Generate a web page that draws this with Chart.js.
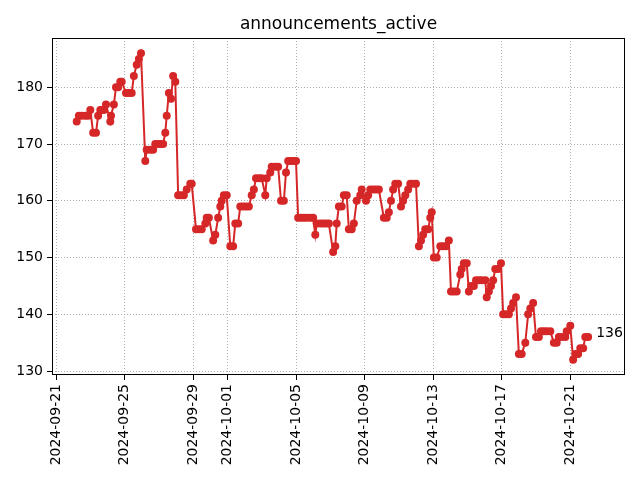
<!DOCTYPE html>
<html>
<head>
<meta charset="utf-8">
<script src="https://cdn.jsdelivr.net/npm/chart.js@4/dist/chart.umd.min.js"></script>
<style>
  html, body { margin: 0; padding: 0; background: #ffffff; }
  #wrap { width: 640px; height: 480px; }
</style>
</head>
<body>
<div id="wrap"><canvas id="chart" width="640" height="480"></canvas></div>
<script>
// hours since 2024-09-21 00:00
var hours = [
    29, 32, 36, 41, 45, 48, 52, 56, 59, 62, 64, 67, 70, 76, 77, 81, 84, 87, 90, 92,
    98, 102, 106, 109, 113, 116, 119, 125, 127, 132, 136, 139, 143, 147, 150, 153, 155, 158, 161, 164,
    167, 171, 175, 179, 183, 188, 190, 196, 200, 204, 209, 211, 214, 220, 223, 227, 230, 232, 235, 239,
    244, 248, 251, 255, 258, 262, 266, 270, 274, 277, 280, 284, 288, 293, 295, 300, 302, 307, 311, 315,
    319, 322, 325, 329, 333, 336, 339, 343, 347, 351, 356, 360, 363, 365, 370, 374, 378, 382, 388, 391,
    393, 396, 400, 403, 407, 410, 414, 417, 421, 426, 428, 434, 437, 440, 444, 448, 452, 459, 463, 466,
    469, 472, 475, 479, 483, 486, 489, 493, 496, 500, 504, 508, 511, 514, 517, 521, 524, 526, 529, 533,
    538, 542, 546, 550, 553, 557, 561, 566, 568, 571, 575, 578, 581, 585, 588, 592, 596, 601, 603, 606,
    609, 612, 615, 619, 623, 626, 630, 634, 637, 640, 644, 648, 652, 657, 661, 664, 668, 672, 676, 679,
    683, 687, 692, 697, 701, 704, 708, 713, 715, 720, 724, 727, 731, 734, 738, 741, 745
];
var values = [
    174, 175, 175, 175, 175, 176, 172, 172, 175, 176, 176, 176, 177, 174, 175, 177, 180, 180, 181, 181,
    179, 179, 179, 182, 184, 185, 186, 167, 169, 169, 169, 170, 170, 170, 170, 172, 175, 179, 178, 182,
    181, 161, 161, 161, 162, 163, 163, 155, 155, 155, 156, 157, 157, 153, 154, 157, 159, 160, 161, 161,
    152, 152, 156, 156, 159, 159, 159, 159, 161, 162, 164, 164, 164, 161, 164, 165, 166, 166, 166, 160,
    160, 165, 167, 167, 167, 167, 157, 157, 157, 157, 157, 157, 154, 156, 156, 156, 156, 156, 151, 152,
    156, 159, 159, 161, 161, 155, 155, 156, 160, 161, 162, 160, 161, 162, 162, 162, 162, 157, 157, 158,
    160, 162, 163, 163, 159, 160, 161, 162, 163, 163, 163, 152, 153, 154, 155, 155, 157, 158, 150, 150,
    152, 152, 152, 153, 144, 144, 144, 147, 148, 149, 149, 144, 145, 145, 146, 146, 146, 146, 143, 144,
    145, 146, 148, 148, 149, 140, 140, 140, 141, 142, 143, 133, 133, 135, 140, 141, 142, 136, 136, 137,
    137, 137, 137, 135, 135, 136, 136, 136, 137, 138, 132, 133, 133, 134, 134, 136, 136
];
var startDate = "2024-09-21";
var tickDays = [0, 4, 8, 10, 14, 18, 22, 26, 30];
var yTicks = [130, 140, 150, 160, 170, 180];
var title = "announcements_active";

var red = "#d62728";
var font = "DejaVu Sans";

function dayLabel(h) {
    var d = new Date(startDate + "T00:00:00Z");
    d.setUTCDate(d.getUTCDate() + Math.round(h / 24));
    return d.toISOString().slice(0, 10);
}

var points = hours.map(function (h, i) { return { x: h, y: values[i] }; });

var framePlugin = {
    id: "frame",
    afterDraw: function (chart) {
        var ctx = chart.ctx;
        var a = chart.chartArea;
        ctx.save();
        ctx.setLineDash([]);
        ctx.strokeStyle = "#000000";
        ctx.lineWidth = 1;
        ctx.strokeRect(Math.round(a.left) + 0.5, Math.round(a.top) + 0.5,
            Math.round(a.right - a.left) - 1, Math.round(a.bottom - a.top) - 1);

        ctx.fillStyle = "#000000";
        ctx.font = "17px '" + font + "'";
        ctx.textAlign = "center";
        ctx.textBaseline = "alphabetic";
        ctx.fillText(title, (a.left + a.right) / 2, 29);

        // last value label
        var meta = chart.getDatasetMeta(0);
        var last = meta.data[meta.data.length - 1];
        ctx.font = "14px '" + font + "'";
        ctx.textAlign = "left";
        ctx.fillText(String(values[values.length - 1]), last.x + 8, last.y);
        ctx.restore();
    }
};

new Chart(document.getElementById("chart").getContext("2d"), {
    type: "line",
    data: {
        datasets: [
            {
                data: points,
                borderColor: red,
                backgroundColor: red,
                borderWidth: 2,
                pointRadius: 4,
                pointBorderWidth: 0,
                pointBackgroundColor: red,
                tension: 0
            }
        ]
    },
    options: {
        responsive: false,
        animation: false,
        devicePixelRatio: 1,
        layout: { padding: { left: 0, right: 15, top: 38, bottom: 0 } },
        plugins: {
            legend: { display: false },
            title: { display: false },
            tooltip: { enabled: false }
        },
        scales: {
            x: {
                type: "linear",
                min: -5.6,
                max: 796.6,
                afterBuildTicks: function (scale) {
                    scale.ticks = tickDays.map(function (d) { return { value: d * 24 }; });
                },
                afterFit: function (scale) { scale.height = 105; },
                ticks: {
                    autoSkip: false,
                    minRotation: 90,
                    maxRotation: 90,
                    padding: 4,
                    color: "#000000",
                    font: { family: font, size: 14 },
                    callback: function (value) { return dayLabel(value); }
                },
                grid: {
                    color: "#b0b0b0",
                    lineWidth: 1,
                    drawTicks: true,
                    tickLength: 5,
                    tickColor: "#000000",
                    tickBorderDash: []
                },
                border: { display: false, dash: [1, 2] }
            },
            y: {
                type: "linear",
                min: 129.3,
                max: 188.7,
                afterBuildTicks: function (scale) {
                    scale.ticks = yTicks.map(function (v) { return { value: v }; });
                },
                afterFit: function (scale) { scale.width = 52; },
                ticks: {
                    padding: 4,
                    color: "#000000",
                    font: { family: font, size: 14 }
                },
                grid: {
                    color: "#b0b0b0",
                    lineWidth: 1,
                    drawTicks: true,
                    tickLength: 5,
                    tickColor: "#000000",
                    tickBorderDash: []
                },
                border: { display: false, dash: [1, 2] }
            }
        }
    },
    plugins: [framePlugin]
});
</script>
</body>
</html>
